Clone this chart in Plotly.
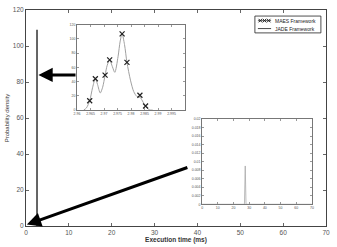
import plotly.graph_objects as go

# ---------------- data ----------------
# Main plot: JADE framework (vertical line)
jade_x = [2.57, 2.57]
jade_y = [0, 109]

# Inset 1: MAES density curve (execution time, density)
maes_curve_x = [2.9625, 2.9635, 2.9647, 2.9658, 2.9668, 2.9676, 2.9686, 2.9695, 2.9704,
                2.9712, 2.9721, 2.9731, 2.9740, 2.9752, 2.9760, 2.9767, 2.9776, 2.9785,
                2.9798, 2.9810, 2.9822, 2.9833, 2.9845, 2.9854, 2.9865, 2.9872, 2.9880]
maes_curve_y = [0, 3, 13, 32, 44, 36, 24, 32, 49,
                63, 70, 61, 53, 75, 97, 107, 92, 67,
                42, 26, 19, 18, 11, 5, 1, 0, 0]
maes_mark_x = [2.9647, 2.9668, 2.9704, 2.9721, 2.9767, 2.9785, 2.9833, 2.9854]
maes_mark_y = [13, 44, 49, 70.6, 107, 67, 20.7, 5.6]

# Inset 2: JADE density spike
jade_in_x = [0, 27.0, 27.5, 28.0, 70]
jade_in_y = [0, 0, 0.009, 0, 0]

main_x_ticks = [0, 10, 20, 30, 40, 50, 60, 70]
main_y_ticks = [0, 20, 40, 60, 80, 100, 120]
in1_x_ticks = [2.96, 2.965, 2.97, 2.975, 2.98, 2.985, 2.99, 2.995]
in1_y_ticks = [0, 20, 40, 60, 80, 100, 120]
in2_x_ticks = [0, 10, 20, 30, 40, 50, 60, 70]
in2_y_ticks = [0, 0.002, 0.004, 0.006, 0.008, 0.01, 0.012, 0.014, 0.016, 0.018, 0.02]

legend_names = ["MAES Framework", "JADE Framework"]

# arrows (tip, tail) in main data coordinates
arrow_tips = [(2.9, 83.9), (0.2, 0.8)]
arrow_tails = [(11.9, 83.9), (38.0, 32.8)]

FONT = "Liberation Sans"

fig = go.Figure()

fig.add_trace(go.Scatter(x=jade_x, y=jade_y, mode="lines",
                         line=dict(color="#333333", width=1.5),
                         showlegend=False, xaxis="x", yaxis="y"))

# inset 1
fig.add_trace(go.Scatter(x=maes_curve_x, y=maes_curve_y, mode="lines",
                         line=dict(color="#a0a0a0", width=1, shape="spline", smoothing=0.8),
                         showlegend=False, xaxis="x2", yaxis="y2"))
fig.add_trace(go.Scatter(x=maes_mark_x, y=maes_mark_y, mode="markers",
                         marker=dict(symbol="x-thin", size=5, line=dict(color="#222", width=1.2)),
                         showlegend=False, xaxis="x2", yaxis="y2"))

# inset 2
fig.add_trace(go.Scatter(x=jade_in_x, y=jade_in_y, mode="lines",
                         line=dict(color="#aaaaaa", width=0.8),
                         showlegend=False, xaxis="x3", yaxis="y3"))

# custom compact legend
LX0, LX1, LY0, LY1 = 0.763, 0.983, 0.894, 0.972
row_y = [0.951, 0.914]
sx0, sx1, tx = 0.773, 0.817, 0.823
shapes = [dict(type="rect", xref="paper", yref="paper", x0=LX0, x1=LX1, y0=LY0, y1=LY1,
               line=dict(color="#222", width=0.8), fillcolor="white", layer="below")]
shapes.append(dict(type="line", xref="paper", yref="paper", x0=sx0, x1=sx1,
                   y0=row_y[0], y1=row_y[0], line=dict(color="#444", width=0.8), layer="below"))
shapes.append(dict(type="line", xref="paper", yref="paper", x0=sx0, x1=sx1,
                   y0=row_y[1], y1=row_y[1], line=dict(color="#333", width=0.9), layer="below"))
fig.add_trace(go.Scatter(x=[0.781, 0.795, 0.809], y=[row_y[0]] * 3, mode="markers",
                         marker=dict(symbol="x-thin", size=3.5, line=dict(color="#222", width=1)),
                         showlegend=False, xaxis="x4", yaxis="y4", hoverinfo="skip"))

ann = []
for (ax_, ay_), (sx, sy) in zip(arrow_tips, arrow_tails):
    ann.append(dict(x=ax_, y=ay_, ax=sx, ay=sy, xref="x", yref="y", axref="x", ayref="y",
                    showarrow=True, arrowhead=2, arrowsize=0.95, arrowwidth=3,
                    arrowcolor="black", text=""))
for name, ry in zip(legend_names, row_y):
    ann.append(dict(x=tx, y=ry, xref="paper", yref="paper", text=name, showarrow=False,
                    xanchor="left", yanchor="middle",
                    font=dict(family=FONT, size=5, color="#222")))

small = dict(family=FONT, size=3.5, color="#555")
inset_axis = dict(showline=True, linecolor="#777", linewidth=0.8, mirror="ticks",
                  ticks="inside", ticklen=2, tickcolor="#999", showgrid=False,
                  zeroline=False, tickfont=small, automargin=False)

fig.update_layout(
    width=337, height=247,
    margin=dict(l=26, r=11, t=10, b=21),
    paper_bgcolor="white", plot_bgcolor="white",
    font=dict(family=FONT, color="#333"),
    xaxis=dict(range=[0, 70], tickvals=main_x_ticks, showline=True, linecolor="#444",
               linewidth=1, mirror="ticks", ticks="inside", ticklen=3, tickcolor="#666",
               showgrid=False, zeroline=False, automargin=False,
               tickfont=dict(family=FONT, size=6.5, color="#555"),
               title=dict(text="<b>Execution time (ms)</b>", font=dict(family=FONT, size=6.5, color="#333"),
                          standoff=1)),
    yaxis=dict(range=[0, 120], tickvals=main_y_ticks, showline=True, linecolor="#444",
               linewidth=1, mirror="ticks", ticks="inside", ticklen=3, tickcolor="#666",
               showgrid=False, zeroline=False, automargin=False,
               tickfont=dict(family=FONT, size=6.5, color="#555"),
               title=dict(text="Probability density", font=dict(family=FONT, size=6, color="#333"),
                          standoff=2)),
    xaxis2=dict(domain=[0.17, 0.53], anchor="y2", range=[2.96, 3.0], tickvals=in1_x_ticks,
                **inset_axis),
    yaxis2=dict(domain=[0.537, 0.932], anchor="x2", range=[0, 120], tickvals=in1_y_ticks,
                **inset_axis),
    xaxis3=dict(domain=[0.587, 0.953], anchor="y3", range=[0, 70], tickvals=in2_x_ticks,
                **inset_axis),
    yaxis3=dict(domain=[0.1005, 0.495], anchor="x3", range=[0, 0.02], tickvals=in2_y_ticks,
                **inset_axis),
    xaxis4=dict(domain=[0, 1], range=[0, 1], visible=False, anchor="y4", overlaying="x"),
    yaxis4=dict(domain=[0, 1], range=[0, 1], visible=False, anchor="x4", overlaying="y"),
    shapes=shapes,
    annotations=ann,
    showlegend=False,
)

fig.write_html("out.html", config={"displayModeBar": False},
               post_script="document.body.style.margin='0px';")
